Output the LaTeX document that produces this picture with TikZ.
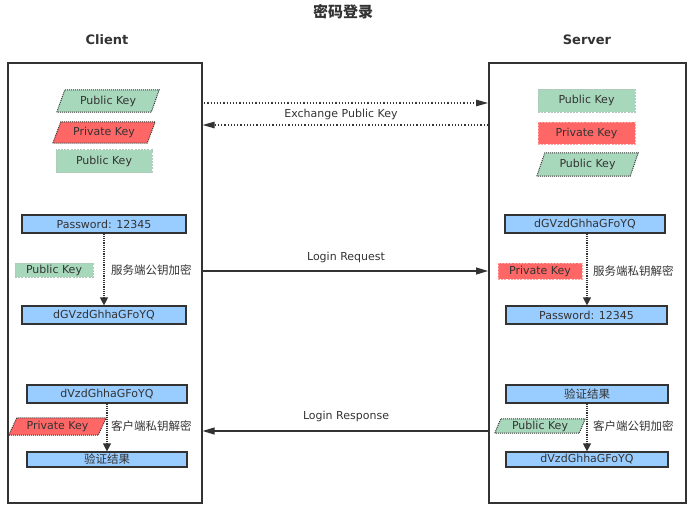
\documentclass[tikz,border=0pt]{standalone}
\usepackage{fontspec}
\setmainfont{DejaVu Sans}
\newfontfamily\cjk{Noto Sans CJK SC}
\usetikzlibrary{arrows.meta,calc,backgrounds}
\definecolor{kgreen}{HTML}{A8D8BC}
\definecolor{kred}{HTML}{FF6666}
\definecolor{kblue}{HTML}{99CCFF}
\definecolor{ink}{HTML}{333333}
% #1 name, #2 centre, #3 width, #4 height, #5 fill, #6 slant, #7 text
\newcommand\parakey[7]{%
  \node[lat, inner sep=0, minimum width=#3pt, minimum height=#4pt] (#1) at (#2) {#7};
  \begin{pgfonlayer}{background}
    \filldraw[fill=#5, draw=ink, densely dotted, line width=1pt]
      (#1.south west) -- ($(#1.north west)+(#6,0)$) -- (#1.north east)
      -- ($(#1.south east)-(#6,0)$) -- cycle;
  \end{pgfonlayer}}
\begin{document}
\begin{tikzpicture}[x=1pt,y=-1pt,
  lat/.style={font=\fontsize{11}{13}\selectfont, text=ink},
  cjklbl/.style={font=\cjk\fontsize{11.5}{13}\selectfont, text=ink, inner sep=0, anchor=west},
  frame/.style={draw=ink, line width=1.6pt},
  bluebox/.style={lat, draw=ink, line width=1.2pt, fill=kblue, inner sep=0, minimum height=18pt},
  bluecjk/.style={bluebox, font=\cjk\fontsize{11.5}{13}\selectfont},
  grect/.style={lat, rectangle, fill=kgreen, draw=kgreen!75!black!60, dashed, dash pattern=on 2pt off 1.2pt, line width=0.7pt, inner sep=0},
  rrect/.style={lat, rectangle, fill=kred, draw=kred!60!white, dashed, dash pattern=on 2pt off 1.2pt, line width=0.7pt, inner sep=0},
  dotarrow/.style={draw=ink, line width=1.2pt, densely dotted, -{Triangle[length=8pt,width=8pt]}},
  msgarrow/.style={draw=ink, line width=1.2pt, -{Triangle[length=12pt,width=7pt]}},
  xarrow/.style={draw=ink, line width=1.2pt, dotted, -{Triangle[length=12pt,width=6.5pt]}},
  head/.style={font=\bfseries\fontsize{13}{15}\selectfont, text=ink}
]
\useasboundingbox (0,0) rectangle (694,509);

% title and headings
\node[font=\cjk\bfseries\fontsize{15}{17}\selectfont, text=ink] (title) at (343,12) {密码登录};
\node[head] (client) at (107,40) {Client};
\node[head] (server) at (587,40) {Server};

% frames
\node[frame, minimum width=194pt, minimum height=440pt, anchor=north west, inner sep=0] (cbox) at (7,62) {};
\node[frame, minimum width=197pt, minimum height=440pt, anchor=north west, inner sep=0] (sbox) at (488,62) {};

% client keys
\parakey{cpk1}{108,101}{102}{22}{kgreen}{8}{Public Key}
\parakey{cpr1}{104,132.5}{102}{21}{kred}{8}{Private Key}
\node[grect, minimum width=96pt, minimum height=23pt] (cpk2) at (104,161) {Public Key};

% server keys
\node[grect, minimum width=97pt, minimum height=23pt] (spk1) at (586.5,100.5) {Public Key};
\node[rrect, minimum width=97pt, minimum height=22pt] (spr1) at (586.5,133) {Private Key};
\parakey{spk2}{587.5,164.5}{101}{23}{kgreen}{8}{Public Key}

% exchange
\coordinate (ex1) at (201,103);
\coordinate (ex2) at (488,125);
\draw[xarrow] (ex1) -- (sbox.west |- ex1);
\draw[xarrow] (ex2) -- (cbox.east |- ex2);
\node[lat] (exlbl) at (341,114) {Exchange Public Key};

% client request
\node[bluebox, minimum width=164pt] (cpw) at (104,224) {Password: 12345};
\node[bluebox, minimum width=164pt] (cenc) at (104,315) {dGVzdGhhaGFoYQ};
\draw[dotarrow] (cpw) -- (cenc);
\node[grect, minimum width=78pt, minimum height=14pt] (cpk3) at (54,270) {Public Key};
\node[cjklbl] (cl1) at (111,270) {服务端公钥加密};

% server request
\node[bluebox, minimum width=160pt] (senc) at (585,224) {dGVzdGhhaGFoYQ};
\node[bluebox, minimum width=161pt] (spw) at (586.5,315) {Password: 12345};
\draw[dotarrow] (senc.south -| 587,0) -- (spw.north -| 587,0);
\node[rrect, minimum width=84pt, minimum height=16pt] (spr2) at (540,271) {Private Key};
\node[cjklbl] (sl1) at (593,271) {服务端私钥解密};

% login request
\coordinate (lr) at (201,271);
\draw[msgarrow] (lr) -- (sbox.west |- lr);
\node[lat] (lrlbl) at (346,257) {Login Request};

% client response
\node[bluebox, minimum width=160pt] (cdv) at (107,394) {dVzdGhhaGFoYQ};
\node[bluecjk, minimum width=160pt, minimum height=15pt] (cres) at (107,459.5) {验证结果};
\draw[dotarrow] (cdv) -- (cres);
\parakey{cpr2}{57.5,426.5}{97}{17}{kred}{8}{Private Key}
\node[cjklbl] (cl2) at (111,426) {客户端私钥解密};

% server response
\node[bluecjk, minimum width=162pt] (sres) at (587,394) {验证结果};
\node[bluebox, minimum width=162pt, minimum height=15pt] (sdv) at (587,459.5) {dVzdGhhaGFoYQ};
\draw[dotarrow] (sres) -- (sdv);
\parakey{spk3}{540,426}{90}{14}{kgreen}{6}{Public Key}
\node[cjklbl] (sl2) at (593,426) {客户端公钥加密};

% login response
\coordinate (lp) at (488,431);
\draw[msgarrow] (lp) -- (cbox.east |- lp);
\node[lat] (lplbl) at (346,416) {Login Response};
\end{tikzpicture}
\end{document}
